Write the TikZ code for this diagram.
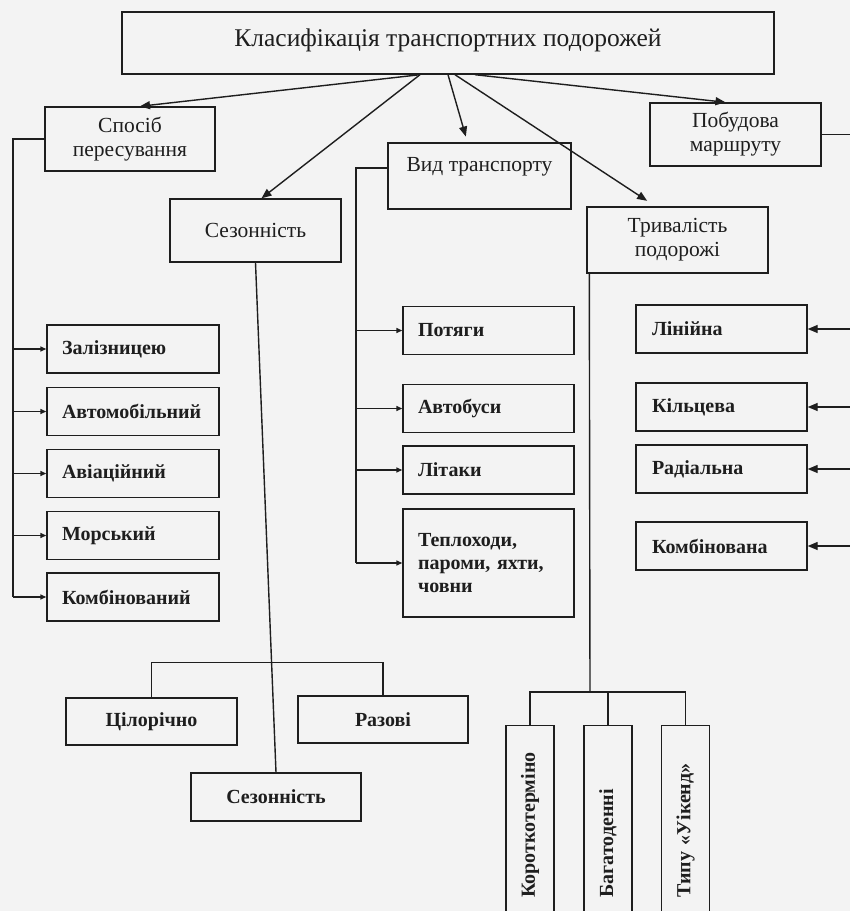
\documentclass[tikz,border=0pt]{standalone}
\usepackage{fontspec}
\setmainfont{Liberation Serif}
\usetikzlibrary{arrows.meta,positioning}
\definecolor{paper}{HTML}{F3F3F3}
\definecolor{ink}{HTML}{1E1E1E}

\begin{document}
\begin{tikzpicture}[x=1pt,y=-1pt,
  every node/.style={font=\fontsize{21.5}{24}\selectfont,text=ink},
  cat/.style={draw=ink,line width=1.4pt,minimum width=171pt,minimum height=64pt,align=center,inner sep=2pt},
  leaf/.style={draw=ink,line width=1.4pt,minimum height=48pt,text width=142pt,inner xsep=15pt,align=left,font=\fontsize{20}{23}\selectfont\bfseries},
  sbox/.style={draw=ink,line width=1.4pt,minimum width=171pt,minimum height=47pt,font=\fontsize{20}{23}\selectfont\bfseries},
  vleaf/.style={draw=ink,line width=1.4pt,rotate=90,anchor=east,minimum height=48pt,text width=144pt,inner xsep=28pt,align=left,font=\fontsize{20}{23}\selectfont\bfseries},
  link/.style={line width=1.4pt,draw=ink},
  arr/.style={link,-{Triangle[length=10pt,width=8pt]}},
  tick/.style={link,-{Triangle[length=6pt,width=5pt]}}]
\useasboundingbox (0,0) rectangle (850,911);
\fill[paper] (0,0) rectangle (850,911);

% top
\node[draw=ink,line width=1.4pt,minimum width=652pt,minimum height=62pt,text depth=10pt,font=\fontsize{25.5}{28}\selectfont] (tk) at (448,43) {Класифікація транспортних подорожей};

% categories
\node[cat,minimum width=170pt] (sp) at (130,139) {Спосіб\\пересування};
\node[cat,minimum height=63pt] (sz) at (255.5,230.5) {Сезонність};
\node[cat,minimum width=183pt,minimum height=66pt] (vt) at (479.5,176) {Вид транспорту\\\mbox{}};
\node[cat,minimum height=63pt] (pb) at (735.5,134.5) {Побудова\\маршруту};
\node[cat,minimum width=181pt,minimum height=66pt] (tr) at (677.5,240) {Тривалість\\подорожі};

\draw[arr] ([xshift=-28pt]tk.south) -- ([xshift=10pt]sp.north);
\draw[arr] ([xshift=-28pt]tk.south) -- ([xshift=6pt]sz.north);
\draw[arr,shorten >=6pt] (tk.south) -- ([xshift=-12pt]vt.north);
\draw[arr,shorten >=10pt] ([xshift=7pt]tk.south) -- ([xshift=-22pt]tr.north);
\draw[arr] ([xshift=27pt]tk.south) -- ([xshift=-10pt]pb.north);

% way of travel
\node[leaf] (zl) at (133,349) {Залізницею};
\node[leaf] (av) at (133,411.5) {Автомобільний};
\node[leaf] (ai) at (133,473.5) {Авіаційний};
\node[leaf] (mr) at (133,535.5) {Морський};
\node[leaf] (km) at (133,597) {Комбінований};
\coordinate (spt) at (13,139);
\draw[link] (sp.west) -- (spt) -- (spt |- km.west);
\foreach \n in {zl,av,ai,mr,km}
  \draw[tick] (spt |- \n.west) -- (\n.west);

% kind of transport
\node[leaf,text width=141pt] (pt) at (488.5,330.5) {Потяги};
\node[leaf,text width=141pt] (ab) at (488.5,408.5) {Автобуси};
\node[leaf,text width=141pt] (lt) at (488.5,470) {Літаки};
\node[leaf,text width=141pt,minimum height=108pt] (tp) at (488.5,563) {Теплоходи,\\пароми, яхти,\\човни};
\coordinate (vtt) at (356,168);
\draw[link] ([yshift=8pt]vt.west) -- (vtt) -- (vtt |- tp.west);
\foreach \n in {pt,ab,lt,tp}
  \draw[tick] (vtt |- \n.west) -- (\n.west);

% route
\node[leaf,text width=139pt,inner xsep=16pt] (ln) at (721.5,329) {Лінійна};
\node[leaf,text width=139pt,inner xsep=16pt] (kl) at (721.5,407) {Кільцева};
\node[leaf,text width=139pt,inner xsep=16pt] (rd) at (721.5,469) {Радіальна};
\node[leaf,text width=139pt,inner xsep=16pt] (kb) at (721.5,546) {Комбінована};
\coordinate (pbt) at (851,134.5);
\draw[link] (pb.east) -- (pbt) -- (pbt |- kb.east);
\foreach \n in {ln,kl,rd,kb}
  \draw[arr] (pbt |- \n.east) -- (\n.east);

% season
\node[sbox] (cl) at (151.5,721.5) {Цілорічно};
\node[sbox,minimum width=170pt] (rz) at (383,719.5) {Разові};
\node[sbox,minimum width=170pt,minimum height=48pt] (sz2) at (276,797) {Сезонність};
\draw[link] (sz.south) -- (sz2.north);
\draw[link] (cl.north) -- ++(0,-35) -| (rz.north);

% duration
\node[vleaf] (kt) at (530,725) {Короткотерміно};
\node[vleaf] (bd) at (608,725) {Багатоденні};
\node[vleaf] (tu) at (685.5,725) {Типу «Уікенд»};
\coordinate (trj) at (590,692);
\draw[link] ([xshift=3pt]tr.south west) -- (trj);
\draw[link] (kt.east) |- (trj) -| (tu.east);
\draw[link] (bd.east) -- (bd.east |- trj);
\end{tikzpicture}
\end{document}
